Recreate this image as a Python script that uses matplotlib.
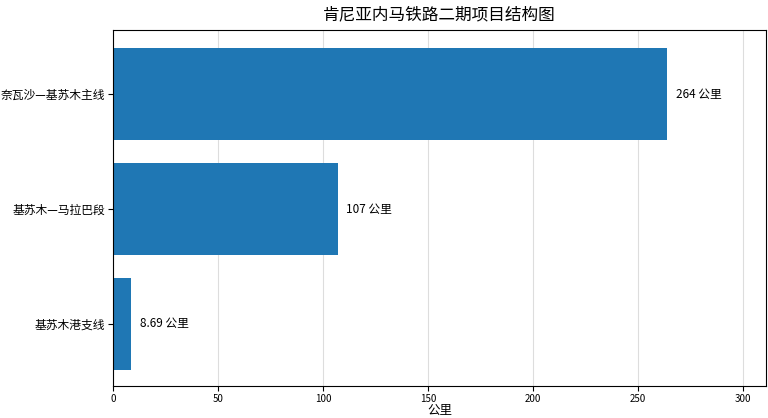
import matplotlib
matplotlib.use("Agg")
import matplotlib.pyplot as plt

plt.rcParams['font.family'] = ['Noto Sans CJK SC', 'DejaVu Sans']

categories = ["奈瓦沙—基苏木主线", "基苏木—马拉巴段", "基苏木港支线"]
values = [264, 107, 8.69]
labels = ["264 公里", "107 公里", "8.69 公里"]

fig = plt.figure(figsize=(7.68, 4.18), dpi=100)
ax = fig.add_axes([113/768, 1-386/418, (766-113)/768, (386-30)/418])
y = list(range(len(categories)))[::-1]
ax.barh(y, values, height=0.8, color="#1f77b4", zorder=2)
for yi, v, lab in zip(y, values, labels):
    ax.text(v + 4, yi, lab, va="center", ha="left", fontsize=8.5)
ax.set_yticks(y)
ax.set_yticklabels(categories, fontsize=8.5)
ax.tick_params(axis='y', pad=2)
ax.set_xlim(0, 311)
ax.set_ylim(-0.54, 2.56)
ax.set_xticks(range(0, 301, 50))
ax.tick_params(axis='x', labelsize=7, pad=2)
ax.grid(axis='x', color='#dddddd', linewidth=0.8, zorder=0)
ax.set_xlabel("公里", fontsize=9, labelpad=0)
ax.set_title("肯尼亚内马铁路二期项目结构图", fontsize=12, pad=8)
fig.savefig("out.png", dpi=100)
